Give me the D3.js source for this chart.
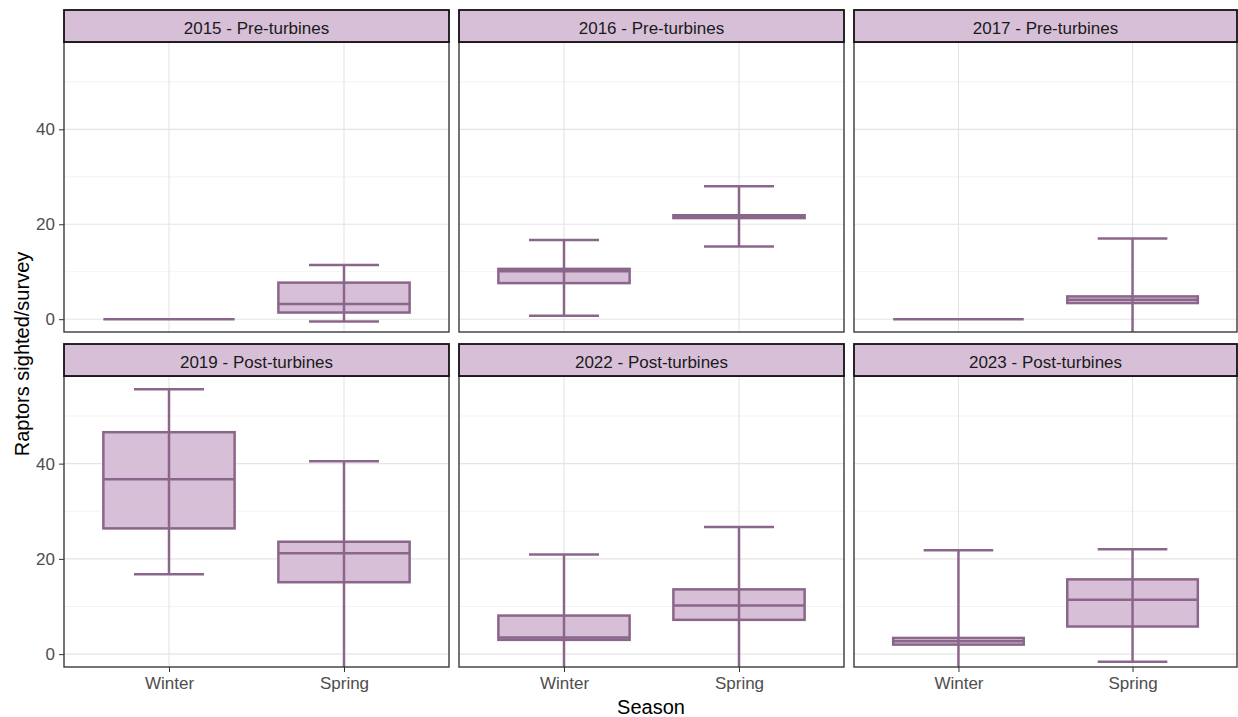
<!DOCTYPE html>
<html><head><meta charset="utf-8">
<script src="https://cdn.jsdelivr.net/npm/d3@7"></script>
<style>body{margin:0;background:#fff;} svg{display:block;font-family:"Liberation Sans",Arial,sans-serif;}</style>
</head><body>
<script>
const panels = ["2015 - Pre-turbines","2016 - Pre-turbines","2017 - Pre-turbines","2019 - Post-turbines","2022 - Post-turbines","2023 - Post-turbines"];
const seasons = ["Winter","Spring"];
// [Winter, Spring] per panel
const whiskerLow  = [[0,-0.5],[0.7,15.3],[0,-6],[16.8,-6],[-6,-6],[-6,-1.6]];
const q1          = [[0,1.4],[7.6,21.3],[0,3.4],[26.4,15.1],[3.0,7.2],[2.0,5.8]];
const median      = [[0,3.2],[10.1,21.6],[0,4.1],[36.7,21.2],[3.5,10.2],[2.7,11.4]];
const q3          = [[0,7.7],[10.6,21.9],[0,4.8],[46.6,23.6],[8.1,13.6],[3.4,15.7]];
const whiskerHigh = [[0,11.4],[16.7,28.0],[0,17.0],[55.6,40.5],[20.9,26.7],[21.8,22.0]];
const yTicks = [0,20,40];
const yMinor = [10,30,50];
const yDomain = [-2.7, 58.4];

const W = 1238, H = 717;
const fill = "#D8BFD8", stroke = "#8B668B";
const svg = d3.select("body").append("svg").attr("width",W).attr("height",H);

const colX = [[64,449],[459,844],[854,1237]];
const rowY = [{strip:10, top:42, bottom:332},{strip:344, top:376, bottom:667}];

const defs = svg.append("defs");
const SW = 2.5;

panels.forEach((name,i)=>{
  const c = i%3, r = Math.floor(i/3);
  const [x0,x1] = colX[c];
  const R = rowY[r];
  const x = d3.scalePoint().domain(seasons).range([x0+(x1-x0)*0.6/2.2, x0+(x1-x0)*1.6/2.2]);
  const unit = (x1-x0)/2.2;
  const cx = s => x(s);
  const y = d3.scaleLinear().domain(yDomain).range([R.bottom,R.top]);
  const g = svg.append("g");
  const clipId = "clip"+i;
  defs.append("clipPath").attr("id",clipId).append("rect").attr("x",x0).attr("y",R.top).attr("width",x1-x0).attr("height",R.bottom-R.top);

  g.selectAll(".mn").data(yMinor).join("line").attr("x1",x0).attr("x2",x1)
    .attr("y1",d=>y(d)).attr("y2",d=>y(d)).attr("stroke","#ebebeb").attr("stroke-width",0.6);
  g.selectAll(".mj").data(yTicks).join("line").attr("x1",x0).attr("x2",x1)
    .attr("y1",d=>y(d)).attr("y2",d=>y(d)).attr("stroke","#e4e4e4").attr("stroke-width",1.1);
  g.selectAll(".vx").data(seasons).join("line").attr("x1",d=>cx(d)).attr("x2",d=>cx(d))
    .attr("y1",R.top).attr("y2",R.bottom).attr("stroke","#e4e4e4").attr("stroke-width",1.1);

  const data = seasons.map((s,j)=>({s, lo:whiskerLow[i][j], q1:q1[i][j], med:median[i][j], q3:q3[i][j], hi:whiskerHigh[i][j]}));
  const bw = unit*0.75, cw = unit*0.2;
  const m = g.append("g").attr("clip-path",`url(#${clipId})`);
  m.selectAll(".box").data(data).join("rect")
    .attr("x",d=>cx(d.s)-bw/2).attr("width",bw)
    .attr("y",d=>y(d.q3)).attr("height",d=>Math.max(0,y(d.q1)-y(d.q3)))
    .attr("fill",fill).attr("stroke",stroke).attr("stroke-width",SW);
  m.selectAll(".med").data(data).join("line")
    .attr("x1",d=>cx(d.s)-bw/2).attr("x2",d=>cx(d.s)+bw/2)
    .attr("y1",d=>y(d.med)).attr("y2",d=>y(d.med))
    .attr("stroke",stroke).attr("stroke-width",SW);
  const wd = data.filter(d=>d.hi!==d.lo);
  m.selectAll(".wv").data(wd).join("line")
    .attr("x1",d=>cx(d.s)).attr("x2",d=>cx(d.s))
    .attr("y1",d=>y(d.lo)).attr("y2",d=>y(d.hi))
    .attr("stroke",stroke).attr("stroke-width",SW);
  m.selectAll(".ch").data(wd).join("line")
    .attr("x1",d=>cx(d.s)-cw).attr("x2",d=>cx(d.s)+cw)
    .attr("y1",d=>y(d.hi)).attr("y2",d=>y(d.hi))
    .attr("stroke",stroke).attr("stroke-width",SW);
  m.selectAll(".cl").data(wd).join("line")
    .attr("x1",d=>cx(d.s)-cw).attr("x2",d=>cx(d.s)+cw)
    .attr("y1",d=>y(d.lo)).attr("y2",d=>y(d.lo))
    .attr("stroke",stroke).attr("stroke-width",SW);

  g.append("rect").attr("x",x0).attr("y",R.top).attr("width",x1-x0).attr("height",R.bottom-R.top)
    .attr("fill","none").attr("stroke","#3a3a3a").attr("stroke-width",1.4);
  g.append("rect").attr("x",x0).attr("y",R.strip).attr("width",x1-x0).attr("height",R.top-R.strip)
    .attr("fill",fill).attr("stroke","#111").attr("stroke-width",1.8);
  g.append("text").attr("x",(x0+x1)/2).attr("y",R.strip+24).attr("text-anchor","middle")
    .attr("font-size",17).attr("fill","#1a1a1a").text(name);

  if (c===0) {
    const ya = g.append("g").attr("transform",`translate(${x0},0)`)
      .call(d3.axisLeft(y).tickValues(yTicks).tickSize(5).tickPadding(4));
    ya.select(".domain").remove();
    ya.selectAll("line").attr("stroke","#333").attr("stroke-width",1);
    ya.selectAll("text").attr("font-size",17).attr("fill","#4d4d4d").attr("font-family","Liberation Sans, Arial, sans-serif");
  }
  if (r===1) {
    const xa = g.append("g").attr("transform",`translate(0,${R.bottom})`)
      .call(d3.axisBottom(x).tickSize(5).tickPadding(5));
    xa.select(".domain").remove();
    xa.selectAll("line").attr("stroke","#333").attr("stroke-width",1);
    xa.selectAll("text").attr("font-size",17).attr("fill","#4d4d4d").attr("font-family","Liberation Sans, Arial, sans-serif");
  }
});

svg.append("text").attr("x",651).attr("y",714).attr("text-anchor","middle").attr("font-size",20).attr("fill","#000").text("Season");
svg.append("text").attr("transform","translate(29,354) rotate(-90)").attr("text-anchor","middle").attr("font-size",20).attr("fill","#000").text("Raptors sighted/survey");
</script>
</body></html>
